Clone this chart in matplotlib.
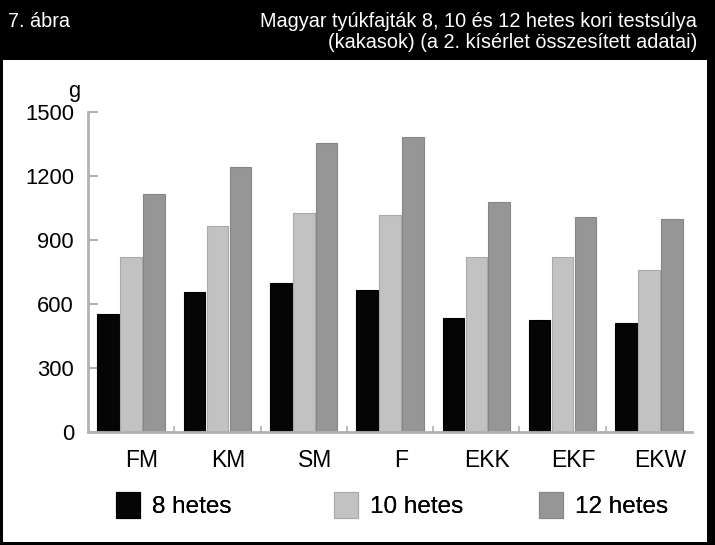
import matplotlib
matplotlib.use("Agg")
import matplotlib.pyplot as plt
import numpy as np
from matplotlib.patches import Rectangle, Patch

plt.rcParams['font.family'] = ['Liberation Sans', 'DejaVu Sans']

categories = ["FM", "KM", "SM", "F", "EKK", "EKF", "EKW"]
w8 = [552, 658, 697, 666, 536, 527, 509]
w10 = [822, 967, 1025, 1016, 822, 819, 759]
w12 = [1116, 1244, 1353, 1383, 1080, 1006, 1000]
series_names = ["8 hetes", "10 hetes", "12 hetes"]
yticks = [0, 300, 600, 900, 1200, 1500]

colors = ["#050505", "#c2c2c2", "#969696"]
edges = ["#000000", "#a9a9a9", "#858585"]
axis_col = "#b2b2b2"

fig = plt.figure(figsize=(7.15, 5.45), dpi=100)
fig.patch.set_facecolor("white")

# header band
fig.patches.append(Rectangle((0, 1 - 60/545), 1, 60/545, transform=fig.transFigure,
                             facecolor="black", edgecolor="none", zorder=0))
hfs = 14.3
fig.text(8/715, 1 - 27/545, "7. ábra", color="white", fontsize=hfs,
         ha="left", va="baseline")
fig.text(697/715, 1 - 27/545, "Magyar tyúkfajták 8, 10 és 12 hetes kori testsúlya",
         color="white", fontsize=hfs, ha="right", va="baseline")
fig.text(697/715, 1 - 48/545, "(kakasok) (a 2. kísérlet összesített adatai)",
         color="white", fontsize=hfs, ha="right", va="baseline")

# border
fig.patches.append(Rectangle((0, 0), 3/715, 1, transform=fig.transFigure,
                             facecolor="black", edgecolor="none"))
fig.patches.append(Rectangle((0, 0), 1, 3/545, transform=fig.transFigure,
                             facecolor="black", edgecolor="none"))
fig.patches.append(Rectangle((707/715, 0), 8/715, 1, transform=fig.transFigure,
                             facecolor="black", edgecolor="none"))

ax = fig.add_axes([88/715, 1 - 432/545, (692 - 88)/715, (432 - 112)/545])
x = np.arange(len(categories))
bw = 0.25
off = 0.265
for vals, dx, c, e in zip([w8, w10, w12], [-off, 0, off], colors, edges):
    ax.bar(x + dx, vals, width=bw, color=c, edgecolor=e, linewidth=0.8, zorder=2)

ax.set_xlim(-0.5, 6.5)
ax.set_ylim(0, 1500)
ax.set_yticks(yticks)
ax.set_yticklabels([str(v) for v in yticks], fontsize=15.8)
label_shift = 0.127  # category labels sit slightly right of group centre
ax.set_xticks(x + label_shift)
ax.set_xticklabels(categories, fontsize=16.5)
ax.set_xticks(np.arange(0.5, 6, 1), minor=True)
ax.tick_params(axis="x", which="major", length=0, pad=12)
ax.tick_params(axis="x", which="minor", direction="in", length=4, width=1.2, color=axis_col)
ax.tick_params(axis="y", direction="in", length=7, width=1.5, color=axis_col, pad=10)
for s in ["top", "right"]:
    ax.spines[s].set_visible(False)
for s in ["left", "bottom"]:
    ax.spines[s].set_color(axis_col)
    ax.spines[s].set_linewidth(2)
ax.set_facecolor("white")

fig.text(74/715, 1 - 91/545, "g", fontsize=15.8, ha="center", va="center")

# legend: three separate entries
leg_x = [111/715, 329/715, 534/715]
for i, (name, c, e) in enumerate(zip(series_names, colors, edges)):
    h = Patch(facecolor=c, edgecolor=e, linewidth=0.8)
    lg = fig.legend([h], [name], loc="center left", bbox_to_anchor=(leg_x[i], 1 - 505/545),
                    frameon=False, fontsize=17.5, handlelength=1.0, handleheight=1.3,
                    handletextpad=0.5, borderaxespad=0, borderpad=0.2)
    fig.add_artist(lg)

fig.savefig("out.png", dpi=100, facecolor="white")
